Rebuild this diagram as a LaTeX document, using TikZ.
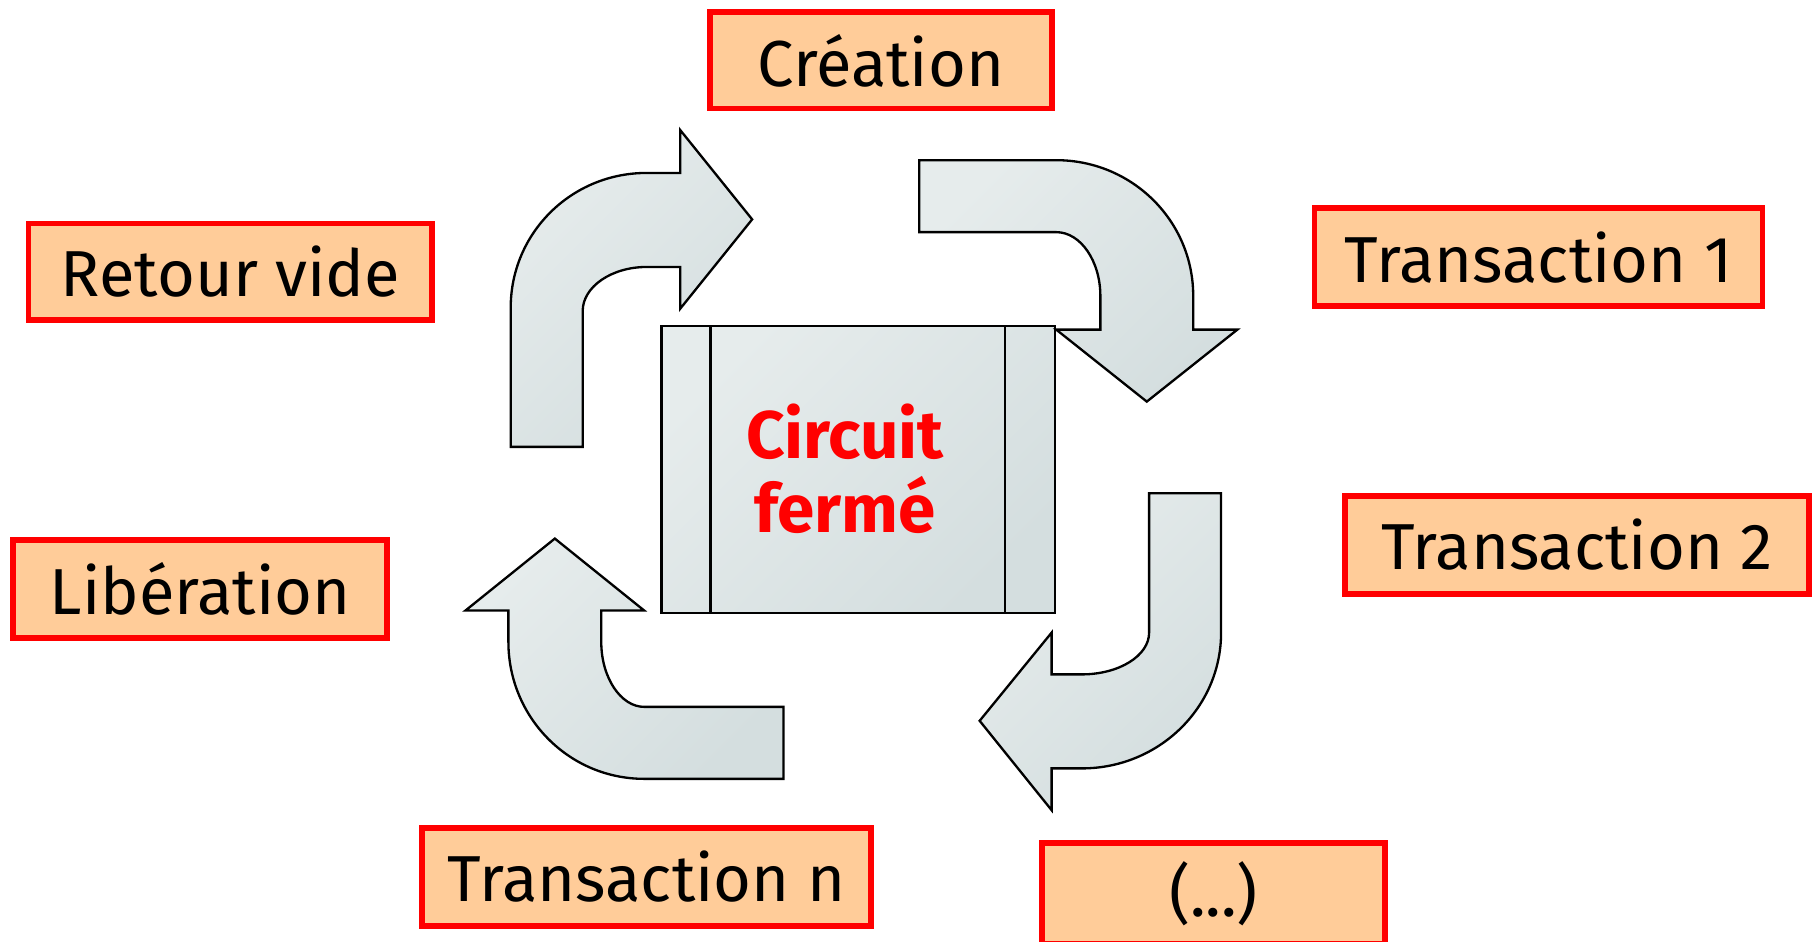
\documentclass[tikz,border=0pt]{standalone}
\usepackage{fontspec}
\setmainfont{Fira Sans}
\definecolor{peach}{HTML}{FFCC99}
\definecolor{boxred}{HTML}{FF0000}
\definecolor{shadeA}{HTML}{E6ECEC}
\definecolor{shadeB}{HTML}{D4DEDF}
\begin{document}
\begin{tikzpicture}[x=1pt,y=-1pt,
  lbox/.style={draw=boxred, fill=peach, line width=5pt, inner sep=0pt,
    font=\fontsize{56}{60}\selectfont},
  bentarrow/.style={draw=black, line width=2pt, line join=miter,
    left color=shadeA, right color=shadeB, shading angle=45},
  sq/.style={draw=black, line width=2.2pt, left color=shadeA, right color=shadeB, shading angle=45}]
\useasboundingbox (0,0) rectangle (1568,811);
\fill[white] (0,0) rectangle (1568,811);
% labelled boxes
\node[lbox, minimum width=295pt, minimum height=83pt] (crea) at (759,52) {Création};
\node[lbox, minimum width=348pt, minimum height=83pt] (retour) at (198.5,234) {Retour vide};
\node[lbox, minimum width=386pt, minimum height=84pt] (t1) at (1325.5,221.5) {Transaction 1};
\node[lbox, minimum width=400pt, minimum height=84pt] (t2) at (1358.5,469.5) {Transaction 2};
\node[lbox, minimum width=322pt, minimum height=84pt] (lib) at (172.5,507.5) {Libération};
\node[lbox, minimum width=387pt, minimum height=84pt] (tn) at (557,755.5) {Transaction n};
\node[lbox, minimum width=296pt, minimum height=87pt] (etc) at (1045.5,770) {(...)};
% centre square
\path[sq] (570,281) rectangle (909,528);
\draw[line width=2.2pt] (612,281) -- (612,528);
\draw[line width=2.2pt] (866,281) -- (866,528);
\node[text=boxred, font=\fontsize{58}{64}\selectfont\bfseries, align=center] (circ) at (728,404) {Circuit\\fermé};
% arrow 1 : up then right
\path[bentarrow] (440,385) -- (440,265) .. controls (440,201) and (492,149) .. (557,149)
  -- (586,149) -- (586,112) -- (648,189) -- (586,266) -- (586,230) -- (557,230)
  .. controls (527,230) and (502,247) .. (502,268) -- (502,385) -- cycle;
% arrow 2 : right then down
\path[bentarrow] (792,138) -- (910,138) .. controls (975,138) and (1028,190) .. (1028,255)
  -- (1028,284) -- (1066,284) -- (988,346) -- (910,284) -- (948,284) -- (948,255)
  .. controls (948,225) and (931,200) .. (910,200) -- (792,200) -- cycle;
% arrow 3 : down then left
\path[bentarrow] (990,425) -- (1052,425) -- (1052,545) .. controls (1052,610) and (998,662) .. (932,662)
  -- (906,662) -- (906,698) -- (844,621) -- (906,545) -- (906,581) -- (932,581)
  .. controls (964,581) and (990,565) .. (990,545) -- cycle;
% arrow 4 : left then up
\path[bentarrow] (675,609) -- (675,671) -- (555,671) .. controls (490,671) and (438,618) .. (438,553)
  -- (438,526) -- (401,526) -- (478,464) -- (555,526) -- (518,526) -- (518,553)
  .. controls (518,584) and (535,609) .. (555,609) -- cycle;
\end{tikzpicture}
\end{document}
